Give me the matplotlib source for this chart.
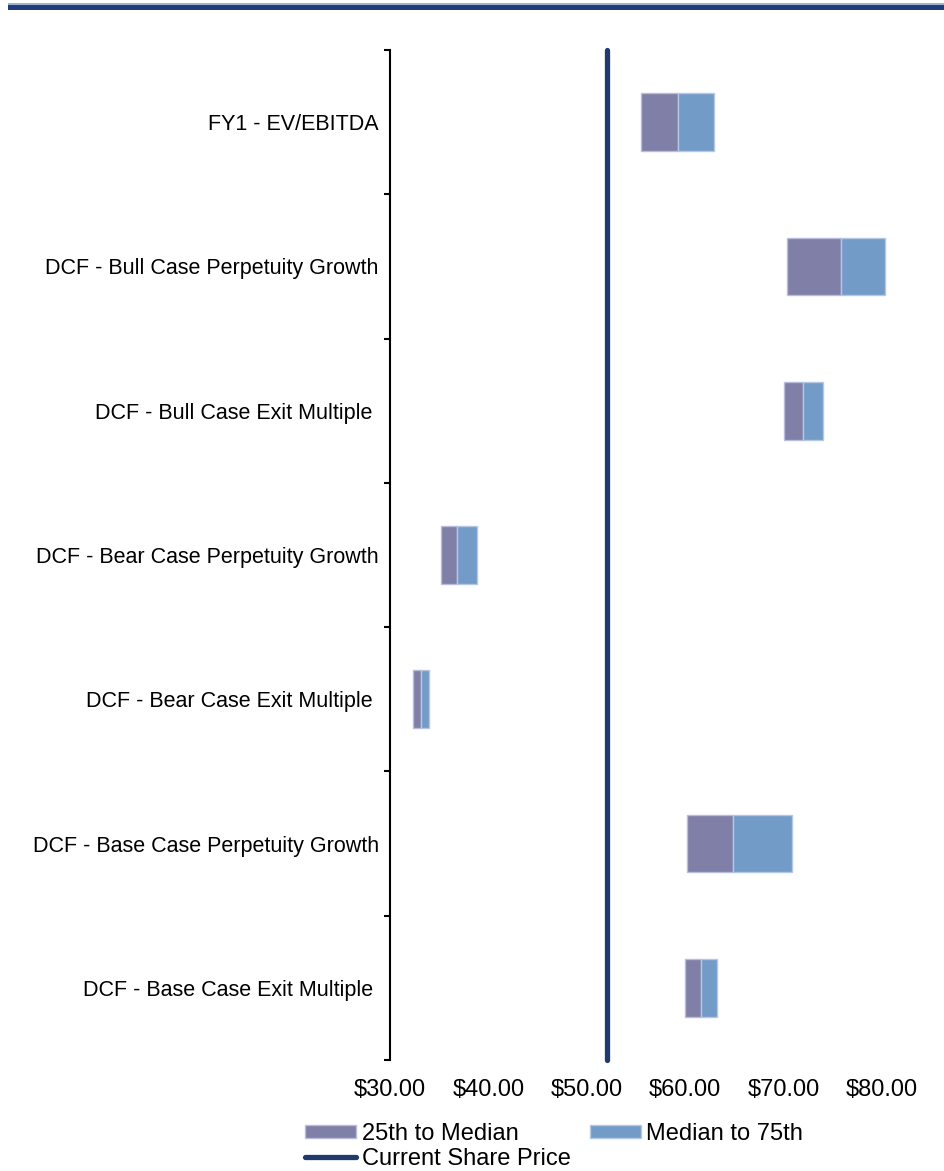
import matplotlib.pyplot as plt
import numpy as np
from matplotlib.patches import Rectangle

plt.rcParams['font.family'] = ['Liberation Sans', 'DejaVu Sans']

# valuation ranges ($ per share)
methods = ["FY1 - EV/EBITDA",
           "DCF - Bull Case Perpetuity Growth",
           "DCF - Bull Case Exit Multiple ",
           "DCF - Bear Case Perpetuity Growth",
           "DCF - Bear Case Exit Multiple ",
           "DCF - Base Case Perpetuity Growth",
           "DCF - Base Case Exit Multiple "]
p25 = [55.5, 70.3, 70.0, 35.2, 32.3, 60.2, 60.0]
median = [59.3, 75.8, 72.0, 36.8, 33.2, 64.8, 61.6]
p75 = [62.9, 80.3, 74.0, 38.8, 34.0, 70.8, 63.2]
share_price = 52.05
xticks = [30, 40, 50, 60, 70, 80]

fig = plt.figure(figsize=(9.44, 11.71), dpi=100)
ax = fig.add_axes([0.4131, 0.0948, 0.584, 0.8625])

y = np.arange(len(methods))
low = np.array(p25)
mid = np.array(median)
high = np.array(p75)

b1 = ax.barh(y, mid - low, left=low, height=0.4, color='#7F7FA8',
             edgecolor='#B9BCDA', linewidth=1, label='25th to Median')
b2 = ax.barh(y, high - mid, left=mid, height=0.4, color='#739BC8',
             edgecolor='#B4C8E4', linewidth=1, label='Median to 75th')
ln, = ax.plot([share_price, share_price], [-0.5, 6.5], color='#203A6C',
              lw=3.8, solid_capstyle='round', label='Current Share Price',
              clip_on=False, zorder=3)

ax.set_xlim(30, 86)
ax.set_ylim(6.5, -0.5)

ax.set_xticks(xticks)
ax.set_xticklabels(['${:.2f}'.format(v) for v in xticks], fontsize=17)
ax.tick_params(axis='x', length=0, pad=14)

ax.set_yticks(y)
ax.set_yticklabels(methods, fontsize=15.5)
ax.set_yticks([-0.5, 0.5, 1.5, 2.5, 3.5, 4.5, 5.5, 6.5], minor=True)
ax.tick_params(axis='y', which='major', length=0, pad=8)
ax.tick_params(axis='y', which='minor', length=4, width=1.5, direction='out')

for s in ['top', 'right', 'bottom']:
    ax.spines[s].set_visible(False)
ax.spines['left'].set_linewidth(1.5)

fig.legend([b1, ln, b2], ['25th to Median', 'Current Share Price', 'Median to 75th'],
           ncol=2, loc='upper left', bbox_to_anchor=(0.3235, 0.041),
           bbox_transform=fig.transFigure, frameon=False, fontsize=17,
           handlelength=2.15, handleheight=0.5, handletextpad=0.25,
           columnspacing=0.8, labelspacing=0.12, borderpad=0, borderaxespad=0)

# header rule across the top
fig.patches.append(Rectangle((8 / 944, 1 - 10 / 1171), 1, 5 / 1171,
                             transform=fig.transFigure, color='#1F3D7A', lw=0))
fig.patches.append(Rectangle((8 / 944, 1 - 5 / 1171), 1, 1.5 / 1171,
                             transform=fig.transFigure, color='#9FB2D3', lw=0))

fig.savefig('out.png', dpi=100)
